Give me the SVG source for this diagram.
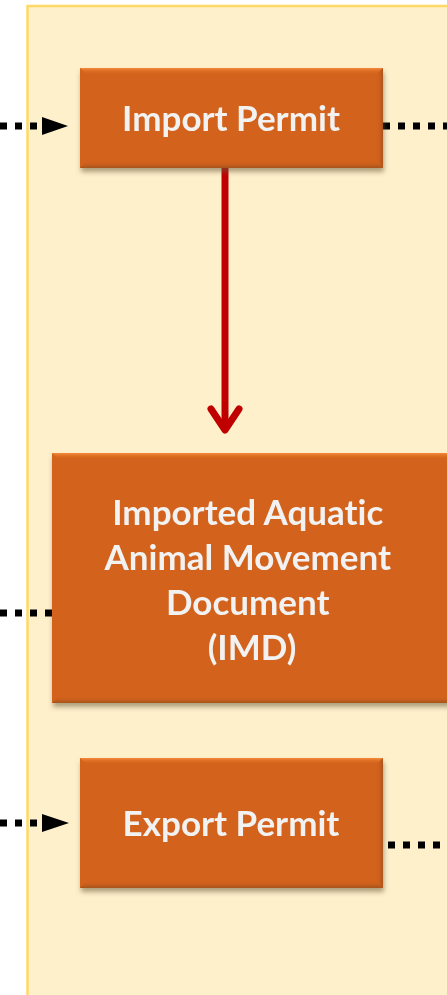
<svg xmlns="http://www.w3.org/2000/svg" width="447" height="995" viewBox="0 0 447 995">
  <style>
    .panel { fill: #FFF0CC; stroke: #FFD966; stroke-width: 2.5; }
    .box { fill: #D2621A; }
    .label { font-family: "Lato", "Open Sans", "Liberation Sans", sans-serif; font-weight: bold; fill: #F2F2F2; text-anchor: middle; font-variant-ligatures: none; font-size: 35px; }
    .dots { stroke: #000; stroke-width: 7; fill: none; stroke-dasharray: 7 8; }
    .main { stroke: #C00000; stroke-width: 7; fill: none; }
  </style>
  <defs>
    <linearGradient id="bevelTop" x1="0" y1="0" x2="0" y2="1">
      <stop offset="0" stop-color="#F58A3C"/>
      <stop offset="1" stop-color="#D2621A" stop-opacity="0"/>
    </linearGradient>
    <linearGradient id="bevelBottom" x1="0" y1="0" x2="0" y2="1">
      <stop offset="0" stop-color="#D2621A" stop-opacity="0"/>
      <stop offset="1" stop-color="#A4521B"/>
    </linearGradient>
    <linearGradient id="bevelRight" x1="0" y1="0" x2="1" y2="0">
      <stop offset="0" stop-color="#D2621A" stop-opacity="0"/>
      <stop offset="1" stop-color="#A9531A"/>
    </linearGradient>
    <filter id="shadow" x="-10%" y="-10%" width="120%" height="130%">
      <feGaussianBlur in="SourceAlpha" stdDeviation="2.5"/>
      <feOffset dx="1" dy="4" result="b"/>
      <feFlood flood-color="#6B5A3A" flood-opacity="0.55"/>
      <feComposite in2="b" operator="in"/>
      <feMerge><feMergeNode/><feMergeNode in="SourceGraphic"/></feMerge>
    </filter>
  </defs>

  <!-- background swimlane -->
  <rect class="panel" x="27.5" y="6" width="440" height="1000"/>

  <!-- dotted connectors -->
  <g id="connectors">
    <path class="dots" d="M0,126 H42" />
    <path d="M42,117 L68,126 L42,135 Z" fill="#000"/>
    <path class="dots" d="M383,126 H447" />
    <path class="dots" d="M0,613 H52" />
    <path class="dots" d="M0,823 H42" />
    <path d="M42,814 L69,823 L42,832 Z" fill="#000"/>
    <path class="dots" d="M388,845 H447" />
    <!-- red flow arrow -->
    <path class="main" d="M225,162 V430" />
    <path class="main" d="M211,409 L225,430 L239,409" stroke-linecap="round" stroke-linejoin="round" stroke-width="8"/>
  </g>

  <g id="import-permit" filter="url(#shadow)">
    <rect class="box" x="80" y="68" width="303" height="100"/>
    <polygon points="80,68 383,68 376,75 87,75" fill="url(#bevelTop)"/>
    <polygon points="80,168 383,168 376,161 87,161" fill="url(#bevelBottom)"/>
    <polygon points="383,68 383,168 376,161 376,75" fill="url(#bevelRight)"/>
    <text class="label" x="231" y="131">Import Permit</text>
  </g>

  <g id="imd" filter="url(#shadow)">
    <rect class="box" x="52" y="453" width="400" height="250"/>
    <polygon points="52,453 452,453 445,460 59,460" fill="url(#bevelTop)"/>
    <polygon points="52,703 452,703 445,696 59,696" fill="url(#bevelBottom)"/>
    <text class="label">
      <tspan x="252" y="525">Imported Aquatic</tspan>
      <tspan x="252" y="570">Animal Movement</tspan>
      <tspan x="252" y="615">Document</tspan>
      <tspan x="252" y="660">(IMD)</tspan>
    </text>
  </g>

  <g id="export-permit" filter="url(#shadow)">
    <rect class="box" x="80" y="758" width="303" height="130"/>
    <polygon points="80,758 383,758 376,765 87,765" fill="url(#bevelTop)"/>
    <polygon points="80,888 383,888 376,881 87,881" fill="url(#bevelBottom)"/>
    <polygon points="383,758 383,888 376,881 376,765" fill="url(#bevelRight)"/>
    <text class="label" x="231" y="836">Export Permit</text>
  </g>
</svg>
